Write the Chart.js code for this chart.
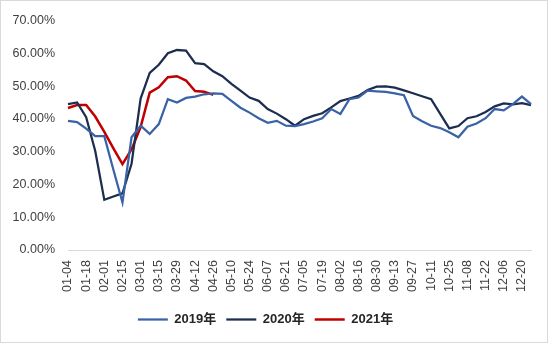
<!DOCTYPE html>
<html>

<head>
    <meta charset="UTF-8">
    <title>周度比率</title>
    <script src="https://cdn.jsdelivr.net/npm/chart.js"></script>
    <style>
        body { margin: 0; background: #fff; }
        #wrap {
            position: relative;
            width: 548px;
            height: 343px;
            border: 1px solid #d9d9d9;
            box-sizing: border-box;
        }
        #wrap canvas { position: absolute; left: -1px; top: -1px; }
    </style>
</head>

<body>
    <div id="wrap">
        <canvas id="weeklyChart" width="550" height="344"></canvas>
    </div>

    <script>
        // weekly categories, one per week of the year
        const weeks = [
            "01-04", "01-11", "01-18", "01-25", "02-01", "02-08", "02-15", "02-22",
            "03-01", "03-08", "03-15", "03-22", "03-29", "04-05", "04-12", "04-19",
            "04-26", "05-03", "05-10", "05-17", "05-24", "05-31", "06-07", "06-14",
            "06-21", "06-28", "07-05", "07-12", "07-19", "07-26", "08-02", "08-09",
            "08-16", "08-23", "08-30", "09-06", "09-13", "09-20", "09-27", "10-04",
            "10-11", "10-18", "10-25", "11-01", "11-08", "11-15", "11-22", "11-29",
            "12-06", "12-13", "12-20", "12-27"
        ];

        const y2019 = [
            39.4, 39.0, 37.0, 34.7, 34.7, 24.5, 14.5, 34.4, 37.9, 35.4, 38.4, 46.0, 45.0,
            46.4, 46.8, 47.5, 47.8, 47.6, 45.5, 43.4, 41.9, 40.2, 38.8, 39.4, 37.9, 37.8,
            38.4, 39.2, 40.2, 43.0, 41.5, 46.0, 46.5, 48.6, 48.4, 48.2, 47.8, 47.2, 40.9,
            39.3, 37.9, 37.2, 35.9, 34.4, 37.6, 38.6, 40.2, 43.0, 42.6, 44.5, 46.8, 44.5
        ];

        const y2020 = [
            44.5, 45.0, 40.5, 30.2, 15.3, 16.3, 17.3, 26.3, 46.2, 54.0, 56.5, 60.0, 61.0,
            60.8, 57.0, 56.7, 54.5, 53.0, 50.7, 48.6, 46.5, 45.5, 43.0, 41.6, 39.9, 37.9,
            39.9, 40.9, 41.7, 43.5, 45.4, 46.2, 47.0, 48.8, 49.8, 49.9, 49.5, 48.7, 47.8,
            46.9, 46.0, 41.5, 37.1, 37.8, 40.2, 40.8, 42.1, 43.8, 44.7, 44.4, 44.8, 44.2
        ];

        const y2021 = [
            43.3, 44.2, 44.2, 40.7, 36.0, 31.0, 26.2, 30.7, 37.5, 48.0, 49.6, 52.7, 53.0,
            51.7, 48.5, 48.3, 47.3
        ];

        const seriesNames = ["2019年", "2020年", "2021年"];
        const seriesColors = ["#3a62a7", "#1c2d4f", "#c00000"];

        const tickFont = { family: "'Liberation Sans', Arial, sans-serif", size: 12.5 };

        new Chart(document.getElementById("weeklyChart"), {
            type: "line",
            data: {
                labels: weeks,
                datasets: [y2019, y2020, y2021].map((d, i) => ({
                    label: seriesNames[i],
                    data: d,
                    borderColor: seriesColors[i],
                    backgroundColor: seriesColors[i],
                    borderWidth: i === 2 ? 2.5 : 2.25,
                    pointRadius: 0,
                    tension: 0,
                    fill: false
                }))
            },
            options: {
                responsive: false,
                animation: false,
                layout: { padding: { top: 19, right: 19, bottom: 8, left: 0 } },
                scales: {
                    x: {
                        offset: false,
                        grid: { display: false, drawTicks: false },
                        border: { display: true, color: "#d9d9d9", width: 1 },
                        ticks: {
                            autoSkip: false,
                            minRotation: 90,
                            maxRotation: 90,
                            padding: 10,
                            color: "#404040",
                            font: tickFont,
                            callback: (v, i) => (i % 2 === 0 ? weeks[i] : "")
                        },
                        afterFit: s => {
                            s.height = 53;
                            s.paddingLeft = 0;
                            s.paddingRight = 0;
                        }
                    },
                    y: {
                        min: 0,
                        max: 70,
                        grid: { display: false, drawTicks: false },
                        border: { display: false },
                        ticks: {
                            stepSize: 10,
                            padding: 13,
                            color: "#404040",
                            font: tickFont,
                            callback: v => v.toFixed(2) + "%"
                        },
                        afterFit: s => { s.width = 68; }
                    }
                },
                plugins: {
                    legend: {
                        position: "bottom",
                        labels: {
                            usePointStyle: true,
                            pointStyle: "line",
                            pointStyleWidth: 30,
                            padding: 10,
                            color: "#262626",
                            font: { family: "'Liberation Sans', 'Noto Sans CJK SC', sans-serif", size: 13, weight: "bold" }
                        }
                    },
                    tooltip: { enabled: false }
                }
            }
        });
    </script>
</body>

</html>
